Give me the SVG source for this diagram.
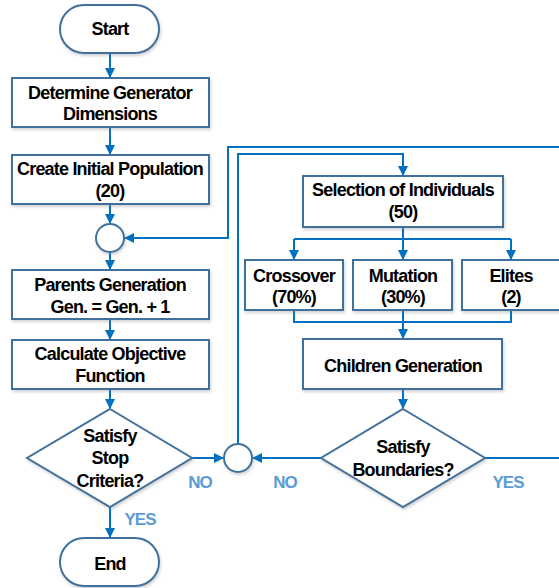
<svg xmlns="http://www.w3.org/2000/svg" width="559" height="588" viewBox="0 0 559 588">
<style>
.shape{fill:#fff;stroke:#41719C;stroke-width:2;filter:url(#sh)}
.t{font-family:"Liberation Sans",Arial,sans-serif;font-weight:bold;font-size:18px;letter-spacing:-0.8px;fill:#000;text-anchor:middle}
.lbl{font-family:"Liberation Sans",Arial,sans-serif;font-weight:bold;font-size:17px;letter-spacing:-1px;fill:#5B9BD5;text-anchor:middle}
.c{fill:none;stroke:#0070C0;stroke-width:2}
</style>
<defs>
<filter id="sh" x="-10%" y="-10%" width="130%" height="140%">
<feDropShadow dx="1" dy="2" stdDeviation="1.5" flood-color="#7f7f7f" flood-opacity="0.35"/>
</filter>
<marker id="a" markerWidth="10" markerHeight="10" refX="9" refY="5" orient="auto" markerUnits="userSpaceOnUse">
<path d="M0,0 L10,5 L0,10 Z" fill="#0070C0"/>
</marker>
</defs>
<g id="connectors">
<path class="c" d="M110,53 V77" marker-end="url(#a)"/>
<path class="c" d="M110,127 V154" marker-end="url(#a)"/>
<path class="c" d="M110,204 V223" marker-end="url(#a)"/>
<path class="c" d="M110,252 V269" marker-end="url(#a)"/>
<path class="c" d="M110,319 V339" marker-end="url(#a)"/>
<path class="c" d="M110,389 V408" marker-end="url(#a)"/>
<path class="c" d="M110,507 V537" marker-end="url(#a)"/>
<path class="c" d="M192,458 H223" marker-end="url(#a)"/>
<path class="c" d="M321,458 H253" marker-end="url(#a)"/>
<path class="c" d="M238,444 V154 H403 V175" marker-end="url(#a)"/>
<path class="c" d="M560,147 H228 V238 H125" marker-end="url(#a)"/>
<path class="c" d="M485,458 H560"/>
<path class="c" d="M403,227 V239"/>
<path class="c" d="M294,239 H511"/>
<path class="c" d="M294,239 V259" marker-end="url(#a)"/>
<path class="c" d="M403,239 V259" marker-end="url(#a)"/>
<path class="c" d="M511,239 V259" marker-end="url(#a)"/>
<path class="c" d="M294,310 V322 H511 V310"/>
<path class="c" d="M403,310 V338" marker-end="url(#a)"/>
<path class="c" d="M403,389 V408" marker-end="url(#a)"/>
</g>
<g id="start">
<rect class="shape" x="60" y="5" width="99" height="48" rx="24"/>
<text class="t" x="110" y="35">Start</text>
</g>
<g id="determine">
<rect class="shape" x="12" y="78" width="197" height="49"/>
<text class="t" x="110" y="99">Determine Generator</text>
<text class="t" x="110" y="120">Dimensions</text>
</g>
<g id="create">
<rect class="shape" x="12" y="155" width="197" height="49"/>
<text class="t" x="110" y="175">Create Initial Population</text>
<text class="t" x="110" y="197">(20)</text>
</g>
<g id="merge1">
<circle class="shape" cx="110" cy="238" r="14"/>
</g>
<g id="parents">
<rect class="shape" x="12" y="270" width="197" height="49"/>
<text class="t" x="110" y="291">Parents Generation</text>
<text class="t" x="110" y="313">Gen. = Gen. + 1</text>
</g>
<g id="calculate">
<rect class="shape" x="12" y="340" width="197" height="49"/>
<text class="t" x="110" y="360">Calculate Objective</text>
<text class="t" x="110" y="382">Function</text>
</g>
<g id="stop">
<path class="shape" d="M110,409 L192,458 L110,507 L27,458 Z"/>
<text class="t" x="110" y="442">Satisfy</text>
<text class="t" x="110" y="464">Stop</text>
<text class="t" x="110" y="487">Criteria?</text>
</g>
<g id="end">
<rect class="shape" x="60" y="538" width="99" height="48" rx="24"/>
<text class="t" x="110" y="570">End</text>
</g>
<g id="merge2">
<circle class="shape" cx="238" cy="458" r="14"/>
</g>
<g id="selection">
<rect class="shape" x="303" y="176" width="200" height="51"/>
<text class="t" x="403" y="196">Selection of Individuals</text>
<text class="t" x="403" y="218">(50)</text>
</g>
<g id="crossover">
<rect class="shape" x="245" y="260" width="98" height="50"/>
<text class="t" x="294" y="282">Crossover</text>
<text class="t" x="294" y="303">(70%)</text>
</g>
<g id="mutation">
<rect class="shape" x="353" y="260" width="99" height="50"/>
<text class="t" x="403" y="282">Mutation</text>
<text class="t" x="403" y="303">(30%)</text>
</g>
<g id="elites">
<rect class="shape" x="462" y="260" width="98" height="50"/>
<text class="t" x="511" y="282">Elites</text>
<text class="t" x="511" y="303">(2)</text>
</g>
<g id="children">
<rect class="shape" x="303" y="339" width="199" height="50"/>
<text class="t" x="403" y="372">Children Generation</text>
</g>
<g id="boundaries">
<path class="shape" d="M403,409 L485,458 L403,507 L321,458 Z"/>
<text class="t" x="403" y="453">Satisfy</text>
<text class="t" x="403" y="476">Boundaries?</text>
</g>
<g id="labels">
<text class="lbl" x="200" y="488">NO</text>
<text class="lbl" x="285" y="488">NO</text>
<text class="lbl" x="140" y="525">YES</text>
<text class="lbl" x="508" y="488">YES</text>
</g>
</svg>
